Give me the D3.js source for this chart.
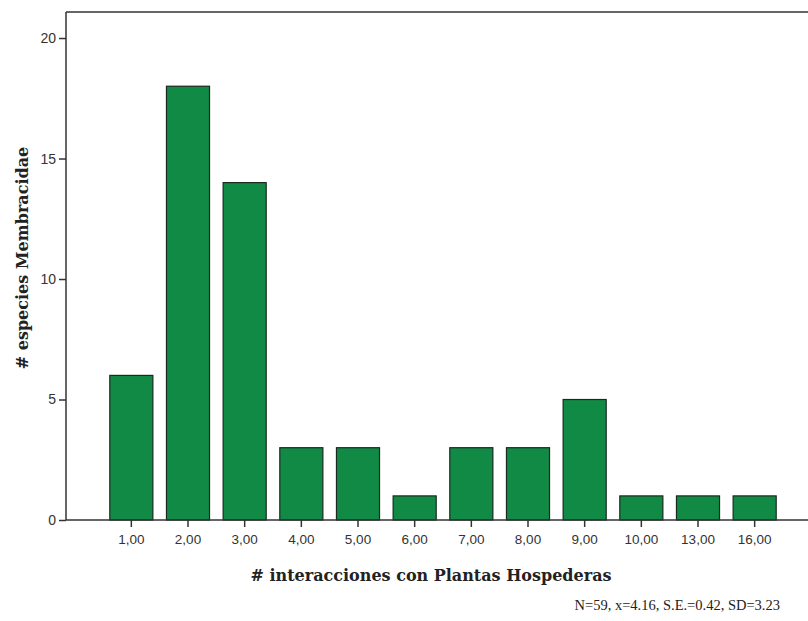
<html>
<head>
  <meta charset="UTF-8">
  <script src="https://d3js.org/d3.v7.min.js"></script>
  <style>
    body { margin: 0; background: #fff; }
  </style>
</head>
<body>
  <svg id="chart" width="808" height="621"></svg>
  <script>
    const categories = ["1,00", "2,00", "3,00", "4,00", "5,00", "6,00", "7,00", "8,00", "9,00", "10,00", "13,00", "16,00"];
    const counts = [6, 18, 14, 3, 3, 1, 3, 3, 5, 1, 1, 1];
    const yTicks = [0, 5, 10, 15, 20];

    const svg = d3.select("#chart");
    const plot = { left: 66, top: 12, right: 808, bottom: 520 };

    const x = d3.scaleBand()
      .domain(categories)
      .range([103, 783])
      .paddingInner(0.24)
      .paddingOuter(0.12);

    const y = d3.scaleLinear()
      .domain([0, 21.08])
      .range([plot.bottom, plot.top]);

    // bars
    svg.append("g").selectAll("rect")
      .data(categories)
      .join("rect")
      .attr("x", d => x(d))
      .attr("y", (d, i) => y(counts[i]))
      .attr("width", x.bandwidth())
      .attr("height", (d, i) => plot.bottom - y(counts[i]))
      .attr("fill", "#118a45")
      .attr("stroke", "#1a2a1e")
      .attr("stroke-width", 1.2);

    // frame line on top
    svg.append("line").attr("x1", plot.left).attr("x2", plot.right).attr("y1", plot.top).attr("y2", plot.top)
      .attr("stroke", "#333").attr("stroke-width", 1.5);

    const yAxis = svg.append("g")
      .attr("transform", "translate(" + plot.left + ",0)")
      .call(d3.axisLeft(y).tickValues(yTicks).tickSize(7).tickPadding(3).tickFormat(d3.format("d")));
    yAxis.select(".domain").attr("d", "M0," + plot.top + "V" + plot.bottom).attr("stroke", "#333").attr("stroke-width", 1.5);
    yAxis.selectAll(".tick line").attr("stroke", "#333").attr("stroke-width", 1.5);
    yAxis.selectAll(".tick text").attr("font-family", "Arial, 'Liberation Sans', sans-serif")
      .attr("font-size", 14).attr("fill", "#333");

    const xAxis = svg.append("g")
      .attr("transform", "translate(0," + plot.bottom + ")")
      .call(d3.axisBottom(x).tickSize(7).tickPadding(7));
    xAxis.select(".domain").attr("d", "M" + plot.left + ",0H" + plot.right).attr("stroke", "#333").attr("stroke-width", 1.5);
    xAxis.selectAll(".tick line").attr("stroke", "#333").attr("stroke-width", 1.5);
    xAxis.selectAll(".tick text").attr("font-family", "Arial, 'Liberation Sans', sans-serif")
      .attr("font-size", 13.5).attr("fill", "#333");

    // axis titles
    svg.append("text")
      .attr("transform", "translate(28,258) rotate(-90)")
      .attr("text-anchor", "middle")
      .attr("font-family", "'DejaVu Serif', serif")
      .attr("font-weight", "bold")
      .attr("font-size", 16)
      .attr("fill", "#222")
      .text("# especies Membracidae");

    svg.append("text")
      .attr("x", 431)
      .attr("y", 581)
      .attr("text-anchor", "middle")
      .attr("font-family", "'DejaVu Serif', serif")
      .attr("font-weight", "bold")
      .attr("font-size", 16)
      .attr("fill", "#222")
      .text("# interacciones con Plantas Hospederas");

    svg.append("text")
      .attr("x", 780)
      .attr("y", 610)
      .attr("text-anchor", "end")
      .attr("font-family", "'Liberation Serif', 'Times New Roman', serif")
      .attr("font-size", 14.5)
      .attr("fill", "#222")
      .text("N=59, x=4.16, S.E.=0.42, SD=3.23");
  </script>
</body>
</html>
